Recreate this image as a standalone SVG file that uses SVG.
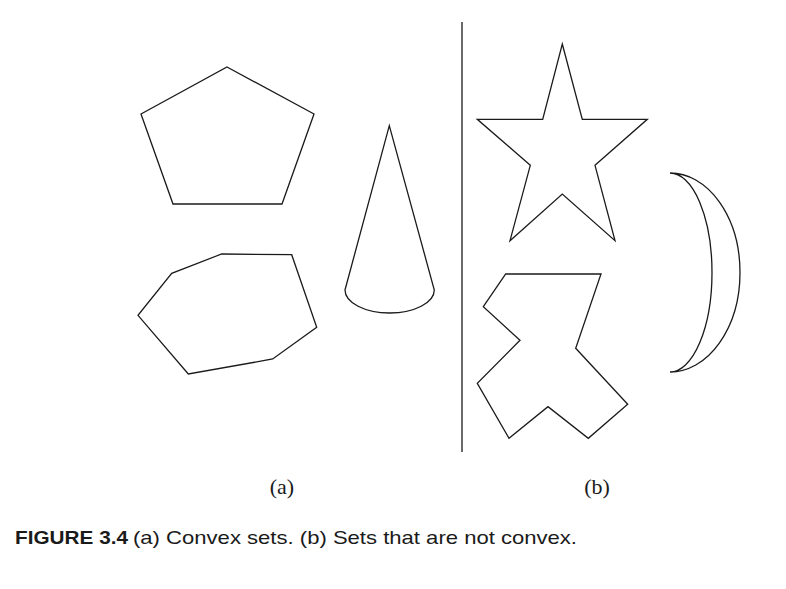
<svg xmlns="http://www.w3.org/2000/svg" width="786" height="589" viewBox="0 0 786 589">
<style>
.s{fill:none;stroke:#1a1a1a;stroke-width:1.3;stroke-linejoin:miter}
.lbl{font-family:"Liberation Serif",serif;font-size:22px;fill:#1a1a1a;text-anchor:middle}
.cap{font-family:"Liberation Sans",Arial,sans-serif;font-size:19px;fill:#1a1a1a}
</style>
<rect width="786" height="589" fill="#fff"/>
<g id="pentagon"><polygon class="s" points="227,67 314,114 282,204 173,204 141,114"/></g>
<g id="heptagon"><polygon class="s" points="221.7,254 291.7,254.7 316.7,327.3 272.7,359 188.3,374 138,315.3 171.7,273.3"/></g>
<g id="cone"><path class="s" d="M345,290 L389.3,125.7 L434.3,290 A44.65,23 0 0 1 345,290 Z"/></g>
<g id="divider"><line class="s" x1="462" y1="22" x2="462" y2="452"/></g>
<g id="star"><polygon class="s" points="562.3,44 582.3,119.3 647.3,119.3 595,165.3 615,240.7 562.3,194 510,240.7 530.3,165.3 477.3,119.3 542.7,119.3"/></g>
<g id="irregular"><polygon class="s" points="505.7,274 601,274 575.7,348.3 627.7,404.3 588.3,438.3 548,406.7 509,438.3 477.3,383.3 520,340.3 483.3,306.7"/></g>
<g id="crescent"><path class="s" d="M670,173 A70,99.5 0 0 1 670,372 A42,99.5 0 0 0 670,173 Z"/></g>
<text class="lbl" x="282" y="494">(a)</text>
<text class="lbl" x="597" y="494">(b)</text>
<text class="cap" x="15" y="543.5" font-weight="bold" textLength="113" lengthAdjust="spacingAndGlyphs">FIGURE 3.4</text>
<text class="cap" x="133" y="543.5" textLength="444" lengthAdjust="spacingAndGlyphs">(a) Convex sets. (b) Sets that are not convex.</text>
</svg>
